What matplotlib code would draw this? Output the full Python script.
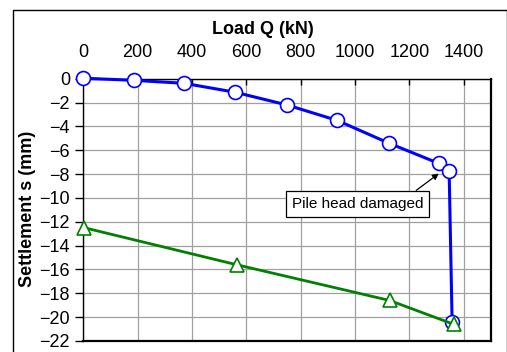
import matplotlib.pyplot as plt
from matplotlib.patches import Rectangle

plt.rcParams['font.family'] = ['Liberation Sans', 'DejaVu Sans']

# load test: settlement vs. load
load_first = [0, 185, 371, 559, 750, 935, 1124, 1308, 1346, 1357]
settle_first = [0.05, -0.13, -0.38, -1.13, -2.2, -3.5, -5.4, -7.1, -7.7, -20.4]

load_second = [4, 564, 1127, 1363]
settle_second = [-12.5, -15.6, -18.6, -20.6]

x_ticks = [0, 200, 400, 600, 800, 1000, 1200, 1400]
y_ticks = [0, -2, -4, -6, -8, -10, -12, -14, -16, -18, -20, -22]

fig = plt.figure(figsize=(5.07, 3.52), dpi=100)
ax = fig.add_axes([0.1643, 0.0313, 0.8041, 0.7449])

ax.plot(load_first, settle_first, color='#0000ff', lw=2.2, marker='o',
        markersize=10, markerfacecolor='white', markeredgecolor='#0000ff',
        markeredgewidth=1.2, clip_on=False, zorder=3)
ax.plot(load_second, settle_second, color='#008000', lw=2.0, marker='^',
        markersize=10.5, markerfacecolor='white', markeredgecolor='#008000',
        markeredgewidth=1.2, clip_on=False, zorder=4)

ax.annotate('Pile head damaged', xy=(1308, -7.95), xytext=(1009, -10.5),
            fontsize=11, ha='center', va='center',
            bbox=dict(boxstyle='square,pad=0.4', fc='white', ec='black', lw=0.9),
            arrowprops=dict(arrowstyle='-|>', color='black', lw=0.9,
                            mutation_scale=9, relpos=(0.88, 1.0),
                            shrinkA=0, shrinkB=0),
            zorder=5)

ax.set_xlim(0, 1500)
ax.set_ylim(-22, 0)
ax.set_xticks(x_ticks)
ax.set_yticks(y_ticks)
ax.xaxis.tick_top()
ax.tick_params(axis='x', direction='in', length=4, width=1, pad=13, labelsize=13)
ax.tick_params(axis='y', direction='out', length=5.5, width=1, pad=4, labelsize=13)
ax.grid(True, color='#a0a0a0', lw=0.9)
ax.set_axisbelow(True)
for side in ['top', 'left']:
    ax.spines[side].set_linewidth(1.0)
for side in ['right', 'bottom']:
    ax.spines[side].set_linewidth(1.6)

fig.text(263 / 507, 1 - 29 / 352, 'Load Q (kN)', fontsize=13, fontweight='bold',
         ha='center', va='center')
fig.text(28 / 507, 1 - 209 / 352, 'Settlement s (mm)', fontsize=13,
         fontweight='bold', rotation=90, ha='center', va='center')

# outer chart frame
fig.patches.append(Rectangle((12.5 / 507, -0.05), 494 / 507, 1.05 - 10 / 352,
                             transform=fig.transFigure, fill=False,
                             ec='black', lw=1.0))

fig.savefig('out.png', dpi=100)
